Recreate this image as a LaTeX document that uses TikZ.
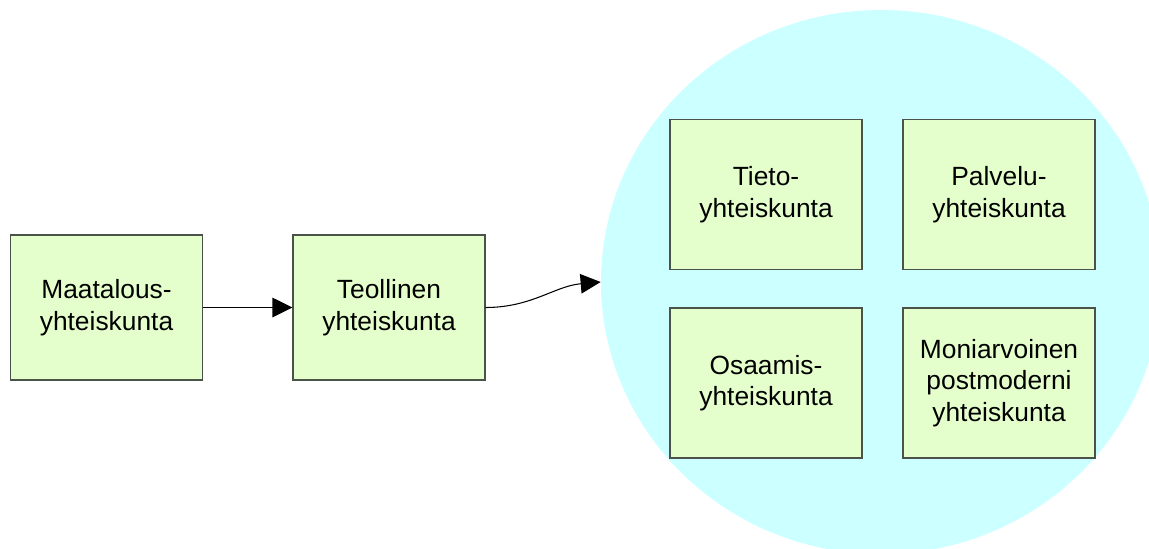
\documentclass[tikz,border=0pt]{standalone}
\usepackage{fontspec}
\setmainfont{Liberation Sans}
\usetikzlibrary{arrows.meta,shapes.geometric}
\definecolor{boxgreen}{HTML}{E5FFCC}
\definecolor{areacyan}{HTML}{CCFFFF}
\definecolor{boxline}{HTML}{4A524A}
\begin{document}
\begin{tikzpicture}[
    society/.style={rectangle, draw=boxline, line width=0.6pt, fill=boxgreen, minimum width=3.84cm, minimum height=2.9cm, align=center, font=\fontsize{15}{18}\selectfont},
    inner/.style={society, minimum height=3cm},
    area/.style={ellipse, fill=areacyan, minimum width=11.2cm, minimum height=10.88cm, inner sep=0pt},
    arrow/.style={-{Triangle[length=4mm, width=3.9mm]}, line width=0.6pt}
]
\useasboundingbox (0,0) rectangle (22.98,-10.96);
\clip (0,0) rectangle (22.98,-10.96);

% Target area
\node[area] (area) at (17.62, -5.64) {};

% Societies
\node[society] (maatalous) at (2.13, -6.15) {Maatalous-\\yhteiskunta};
\node[society] (teollinen) at (7.78, -6.15) {Teollinen\\yhteiskunta};
\node[inner] (tieto) at (15.32, -3.89) {Tieto-\\yhteiskunta};
\node[inner] (palvelu) at (19.98, -3.89) {Palvelu-\\yhteiskunta};
\node[inner] (osaamis) at (15.32, -7.66) {Osaamis-\\yhteiskunta};
\node[inner] (moniarvoinen) at (19.98, -7.66) {Moniarvoinen\\postmoderni\\yhteiskunta};

% Arrows
\draw[arrow] (maatalous) -- (teollinen);
\draw[arrow] (teollinen.east) to[out=0, in=185] (area.west);

\end{tikzpicture}
\end{document}
